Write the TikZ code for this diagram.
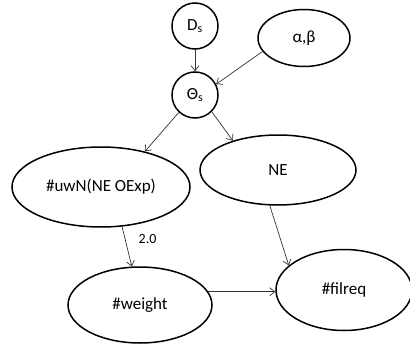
\documentclass[tikz,border=0pt]{standalone}
\usepackage{fontspec}
\setmainfont{Carlito}
\usetikzlibrary{arrows.meta,shapes.geometric}
\begin{document}
\begin{tikzpicture}[x=1pt,y=-1pt,
  nd/.style={draw=black,line width=1.5pt,ellipse,inner sep=0pt,font=\fontsize{17}{20}\selectfont},
  cir/.style={draw=black,line width=1.5pt,circle,inner sep=0pt,minimum size=46pt,font=\fontsize{17}{20}\selectfont},
  conn/.style={draw=black!80,line width=0.7pt,-{Straight Barb[length=5pt,width=8pt]}},
  lbl/.style={font=\fontsize{14}{16}\selectfont}]
\useasboundingbox (0,0) rectangle (410,345);
\node[cir] (ds) at (195,26) {D\textsubscript{s}};
\node[cir] (th) at (195,95) {Θ\textsubscript{s}};
\node[nd,minimum width=92pt,minimum height=57pt] (ab) at (304,38) {α,β};
\node[nd,minimum width=178pt,minimum height=80pt] (uwn) at (101,187) {\#uwN(NE OExp)};
\node[nd,minimum width=156pt,minimum height=70pt] (ne) at (278,170) {NE};
\node[nd,minimum width=144pt,minimum height=76pt] (wt) at (140,305) {\#weight};
\node[nd,minimum width=136pt,minimum height=81pt] (fr) at (344,290) {\#filreq};
\draw[conn] (ds) -- (th);
\draw[conn] (ab.198) -- (th.27);
\draw[conn] (th.227) -- (uwn.39);
\draw[conn] (th.-45) -- (ne.147);
\draw[conn] (uwn.-62) -- node[lbl,pos=0.3,right=10pt] (w) {2.0} (wt.102);
\draw[conn] (ne.-103) -- (fr.156);
\draw[conn] (wt.11) -- (wt.11 -| fr.west);
\end{tikzpicture}
\end{document}
